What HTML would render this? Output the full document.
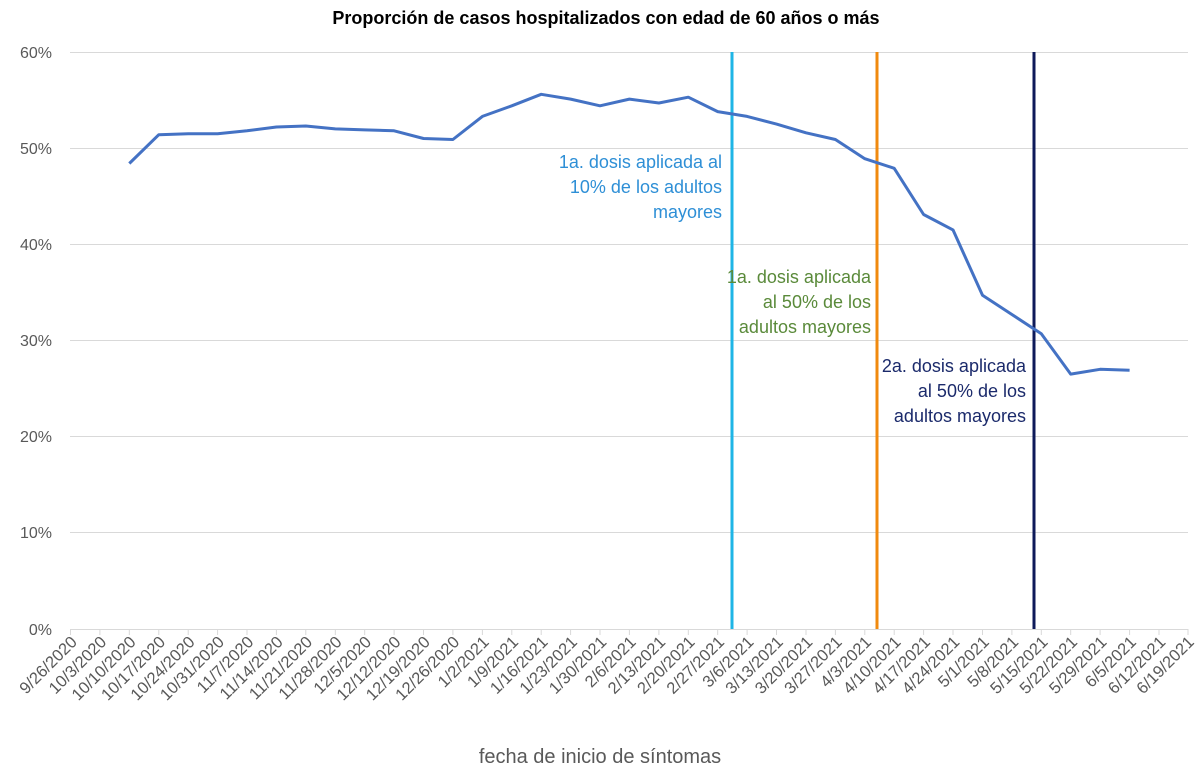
<!DOCTYPE html>
<html><head><meta charset="utf-8"><style>
body{margin:0;background:#fff;}
svg text{font-family:"Liberation Sans",sans-serif;}
</style></head><body>
<svg width="1200" height="775" xmlns="http://www.w3.org/2000/svg">
<rect width="1200" height="775" fill="#fff"/>
<text x="606" y="24" text-anchor="middle" font-size="18" font-weight="bold" fill="#000">Proporción de casos hospitalizados con edad de 60 años o más</text>
<g stroke="#d9d9d9" stroke-width="1">
<line x1="70" y1="52.5" x2="1188" y2="52.5"/>
<line x1="70" y1="148.5" x2="1188" y2="148.5"/>
<line x1="70" y1="244.5" x2="1188" y2="244.5"/>
<line x1="70" y1="340.5" x2="1188" y2="340.5"/>
<line x1="70" y1="436.5" x2="1188" y2="436.5"/>
<line x1="70" y1="532.5" x2="1188" y2="532.5"/>
<line x1="70" y1="629.5" x2="1188" y2="629.5"/>
</g>
<g stroke="#d9d9d9" stroke-width="1">
<path d="M70.5 629v6M99.9 629v6M129.3 629v6M158.8 629v6M188.2 629v6M217.6 629v6M247 629v6M276.4 629v6M305.8 629v6M335.3 629v6M364.7 629v6M394.1 629v6M423.5 629v6M452.9 629v6M482.4 629v6M511.8 629v6M541.2 629v6M570.6 629v6M600 629v6M629.4 629v6M658.9 629v6M688.3 629v6M717.7 629v6M747.1 629v6M776.5 629v6M806 629v6M835.4 629v6M864.8 629v6M894.2 629v6M923.6 629v6M953 629v6M982.5 629v6M1011.9 629v6M1041.3 629v6M1070.7 629v6M1100.1 629v6M1129.6 629v6M1159 629v6M1188 629v6"/>
</g>
<g font-size="16" fill="#595959" text-anchor="end">
<text x="52" y="58">60%</text>
<text x="52" y="154">50%</text>
<text x="52" y="250">40%</text>
<text x="52" y="346">30%</text>
<text x="52" y="442">20%</text>
<text x="52" y="538">10%</text>
<text x="52" y="635">0%</text>
</g>
<g font-size="16.5" fill="#595959" text-anchor="end">
<text transform="translate(78,643) rotate(-45)">9/26/2020</text>
<text transform="translate(107.4,643) rotate(-45)">10/3/2020</text>
<text transform="translate(136.8,643) rotate(-45)">10/10/2020</text>
<text transform="translate(166.3,643) rotate(-45)">10/17/2020</text>
<text transform="translate(195.7,643) rotate(-45)">10/24/2020</text>
<text transform="translate(225.1,643) rotate(-45)">10/31/2020</text>
<text transform="translate(254.5,643) rotate(-45)">11/7/2020</text>
<text transform="translate(283.9,643) rotate(-45)">11/14/2020</text>
<text transform="translate(313.3,643) rotate(-45)">11/21/2020</text>
<text transform="translate(342.8,643) rotate(-45)">11/28/2020</text>
<text transform="translate(372.2,643) rotate(-45)">12/5/2020</text>
<text transform="translate(401.6,643) rotate(-45)">12/12/2020</text>
<text transform="translate(431,643) rotate(-45)">12/19/2020</text>
<text transform="translate(460.4,643) rotate(-45)">12/26/2020</text>
<text transform="translate(489.9,643) rotate(-45)">1/2/2021</text>
<text transform="translate(519.3,643) rotate(-45)">1/9/2021</text>
<text transform="translate(548.7,643) rotate(-45)">1/16/2021</text>
<text transform="translate(578.1,643) rotate(-45)">1/23/2021</text>
<text transform="translate(607.5,643) rotate(-45)">1/30/2021</text>
<text transform="translate(636.9,643) rotate(-45)">2/6/2021</text>
<text transform="translate(666.4,643) rotate(-45)">2/13/2021</text>
<text transform="translate(695.8,643) rotate(-45)">2/20/2021</text>
<text transform="translate(725.2,643) rotate(-45)">2/27/2021</text>
<text transform="translate(754.6,643) rotate(-45)">3/6/2021</text>
<text transform="translate(784,643) rotate(-45)">3/13/2021</text>
<text transform="translate(813.5,643) rotate(-45)">3/20/2021</text>
<text transform="translate(842.9,643) rotate(-45)">3/27/2021</text>
<text transform="translate(872.3,643) rotate(-45)">4/3/2021</text>
<text transform="translate(901.7,643) rotate(-45)">4/10/2021</text>
<text transform="translate(931.1,643) rotate(-45)">4/17/2021</text>
<text transform="translate(960.5,643) rotate(-45)">4/24/2021</text>
<text transform="translate(990,643) rotate(-45)">5/1/2021</text>
<text transform="translate(1019.4,643) rotate(-45)">5/8/2021</text>
<text transform="translate(1048.8,643) rotate(-45)">5/15/2021</text>
<text transform="translate(1078.2,643) rotate(-45)">5/22/2021</text>
<text transform="translate(1107.6,643) rotate(-45)">5/29/2021</text>
<text transform="translate(1137.1,643) rotate(-45)">6/5/2021</text>
<text transform="translate(1166.5,643) rotate(-45)">6/12/2021</text>
<text transform="translate(1195,643) rotate(-45)">6/19/2021</text>
</g>
<text x="600" y="763" text-anchor="middle" font-size="20" fill="#595959">fecha de inicio de síntomas</text>
<line x1="732" y1="52" x2="732" y2="629" stroke="#1fb5e6" stroke-width="3"/>
<line x1="877" y1="52" x2="877" y2="629" stroke="#f08a0f" stroke-width="3"/>
<line x1="1034" y1="52" x2="1034" y2="629" stroke="#0e1a5a" stroke-width="3"/>
<polyline fill="none" stroke="#4472c4" stroke-width="3" stroke-linejoin="round"
points="129.3,163.5 158.8,134.7 188.2,133.7 217.6,133.7 247,130.8 276.4,127 305.8,126 335.3,128.9 364.7,129.9 394.1,130.8 423.5,138.5 452.9,139.5 482.4,116.4 511.8,105.8 541.2,94.3 570.6,99.1 600,105.8 629.4,99.1 658.9,103 688.3,97.2 717.7,111.6 747.1,116.4 776.5,124.1 806,132.8 835.4,139.5 864.8,158.7 894.2,168.3 923.6,214.5 953,229.9 982.5,295.3 1011.9,314.5 1041.3,333.8 1070.7,374.1 1100.1,369.3 1129.6,370.3"/>
<g font-size="18" text-anchor="end">
<g fill="#2e8fd6">
<text x="722" y="168">1a. dosis aplicada al</text>
<text x="722" y="193">10% de los adultos</text>
<text x="722" y="218">mayores</text>
</g>
<g fill="#5a8a3a">
<text x="871" y="283">1a. dosis aplicada</text>
<text x="871" y="308">al 50% de los</text>
<text x="871" y="333">adultos mayores</text>
</g>
<g fill="#1b2a6b">
<text x="1026" y="372">2a. dosis aplicada</text>
<text x="1026" y="397">al 50% de los</text>
<text x="1026" y="422">adultos mayores</text>
</g>
</g>
</svg>
</body></html>
